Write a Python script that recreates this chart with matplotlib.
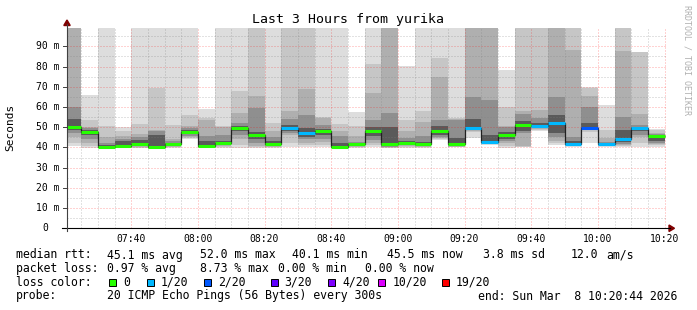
import numpy as np
import matplotlib
matplotlib.use("Agg")
from matplotlib import pyplot as plt
from matplotlib.patches import Rectangle, Polygon
from matplotlib.lines import Line2D

W, H = 697, 310
MONO = "DejaVu Sans Mono"

# end of each 5 minute step
step_end = ["07:25", "07:30", "07:35", "07:40", "07:45", "07:50", "07:55", "08:00",
            "08:05", "08:10", "08:15", "08:20", "08:25", "08:30", "08:35", "08:40",
            "08:45", "08:50", "08:55", "09:00", "09:05", "09:10", "09:15", "09:20",
            "09:25", "09:30", "09:35", "09:40", "09:45", "09:50", "09:55", "10:00",
            "10:05", "10:10", "10:15", "10:20"]

# median rtt per step (ms) and lost pings out of 20
median_ms = [49.9, 47.6, 40.4, 40.75, 41.9, 40.1, 41.6, 47.75, 40.75, 42.1, 49.6, 46.25,
             41.9, 49.6, 46.9, 48.1, 40.4, 41.6, 48.1, 41.9, 42.4, 41.9, 48.1, 41.9,
             49.6, 42.75, 46.1, 51.1, 50.75, 52.1, 41.75, 49.75, 41.75, 44.4, 49.75, 45.5]
loss = [0, 0, 0, 0, 0, 0, 0, 0, 0, 0, 0, 0, 0, 1, 1, 0, 0, 0, 0, 0, 0, 0, 0, 0,
        1, 1, 0, 0, 1, 1, 1, 2, 1, 1, 1, 0]

# smoke bands, outer (1) to inner (5); 120 = off the top of the graph
hi1 = [120, 65.75, 120, 50, 120, 120, 120, 120, 58.75, 120, 120, 120, 120, 120, 120, 120, 120, 57.4,
       120, 120, 80.4, 120, 120, 120, 120, 120, 78.25, 120, 120, 120, 120, 69.75, 60.75, 120, 87.3, 49]
hi2 = [120, 53.4, 50.75, 48, 51.75, 69.4, 51, 56, 54.6, 50.4, 68, 120, 52, 120, 120, 55, 51.75, 50.4,
       81, 120, 53.75, 58.25, 84, 54.6, 120, 120, 60.1, 120, 120, 120, 120, 69.5, 48.75, 120, 87.25, 48.8]
hi3 = [120, 50, 45, 45.5, 46.5, 48.5, 44, 50.4, 53.75, 50, 57.1, 65.4, 48, 57.9, 68.7, 54.5, 48, 45.4,
       67, 120, 48, 52.7, 75, 54, 120, 120, 50.4, 58, 58.4, 120, 88.25, 65.6, 44.6, 87.75, 56.7, 47]
hi4 = [60, 49.5, 42, 44, 45, 48, 43, 49.5, 45.4, 46.25, 52.1, 59.7, 45, 54, 56, 51.2, 45.4, 42.9,
       53.75, 57.1, 44.6, 45.4, 53.75, 53.75, 65, 63.5, 50, 56.7, 54.3, 65, 45, 59.75, 42.9, 55, 51, 46.5]
hi5 = [54, 48.5, 41, 43, 43.7, 46, 42.3, 48.7, 43, 43, 50.5, 47.5, 43, 51, 49.5, 49, 42.1, 42,
       50, 50, 43, 42.9, 50.4, 44.6, 54, 46, 47.5, 53, 52, 56, 43, 52, 42.2, 48.6, 50, 46]
lo5 = [48.5, 46, 40.3, 40.5, 41, 40, 41, 46.5, 40.5, 41.5, 48, 44, 41, 48, 45, 46, 40.3, 41,
       45.5, 40.5, 41.5, 41, 46, 41, 49, 42.3, 44, 48, 50, 47, 41.2, 49.3, 41.2, 42.5, 48, 43]
lo4 = [47, 44, 40.2, 40.2, 40.5, 39.8, 40.5, 45.5, 40.3, 41, 46, 42, 40.5, 47, 44, 44, 40.2, 40.7,
       43.5, 40.2, 41, 40.6, 45, 40.7, 48.5, 42, 43, 47, 49.5, 45, 41, 49, 41, 41.5, 46, 42]
lo3 = [45, 42, 40.1, 40, 40.2, 39.6, 40.2, 45, 40.1, 40.5, 44, 40.5, 40.2, 46, 42, 42.5, 40.1, 40.4,
       42, 40, 40.5, 40.3, 44.5, 40.4, 48, 41.8, 42, 40.5, 49, 43, 40.8, 48.5, 40.8, 41, 45, 41.5]
lo2 = [42, 40.5, 40, 39.8, 39.8, 39.4, 40, 44.5, 40, 40, 41, 40, 40, 42, 41, 41, 40, 40.1,
       41, 39.8, 40.2, 40.1, 44, 40.2, 47.5, 41.6, 40.5, 40.3, 48.5, 42, 40.6, 47.5, 40.6, 40.7, 42, 41]
lo1 = [40.5, 39.5, 39.8, 39.5, 39.5, 39.2, 39.8, 44, 39.7, 39.7, 39.7, 39.5, 39.7, 40, 40.3, 40.3, 39.5, 39.7,
       40, 39.5, 39.7, 39.8, 43.75, 40, 44.6, 41.3, 39.6, 40, 47.9, 41.25, 40.4, 42, 40.4, 40.4, 40.4, 40.4]

smoke_colors = ["#dddddd", "#c6c6c6", "#afafaf", "#8f8f8f", "#5a5a5a"]
loss_colors = {0: "#26ff00", 1: "#00b8ff", 2: "#0059ff", 3: "#5e00ff",
               4: "#7e00ff", 10: "#dd00ff", 19: "#ff0000"}

ends = np.array([int(s[:2]) * 60 + int(s[3:]) for s in step_end], dtype=float)
starts = ends - 5


def fx(x):
    return x / W


def fy(y):
    return 1 - y / H


fig = plt.figure(figsize=(W / 100, H / 100), dpi=100)
fig.patch.set_facecolor("white")

X0, X1 = 67, 667
Y0, Y1 = 228.3, 28.1
YMAX = 99.0
ax = fig.add_axes([fx(X0), fy(Y0), (X1 - X0) / W, (Y0 - Y1) / H])
t0 = 7 * 60 + 20 + 44 / 60
ax.set_xlim(t0, t0 + 180)
ax.set_ylim(0, YMAX)
ax.axis("off")

# smoke
for lo, hi, c in zip([lo1, lo2, lo3, lo4, lo5], [hi1, hi2, hi3, hi4, hi5], smoke_colors):
    lo = np.array(lo)
    hi = np.array(hi)
    ax.bar(starts, hi - lo, bottom=lo, width=5, align="edge", color=c, linewidth=0, zorder=1)

# grid
dots = (0, (1, 2))
for v in range(5, 100, 5):
    if v % 10 == 0:
        ax.axhline(v, color="#ff0000", alpha=0.35, lw=0.72, ls=dots, zorder=2)
    else:
        ax.axhline(v, color="#808080", alpha=0.45, lw=0.72, ls=dots, zorder=2)
for m in range(445, 621, 5):
    if m % 20 == 0:
        ax.axvline(m, color="#ff0000", alpha=0.35, lw=0.72, ls=dots, zorder=2)
    else:
        ax.axvline(m, color="#808080", alpha=0.45, lw=0.72, ls=dots, zorder=2)

# median
ax.stairs(median_ms, np.r_[starts[0], ends], baseline=None, color="#202020", lw=0.9, zorder=3)
ax.hlines(median_ms, starts, ends, colors=[loss_colors[l] for l in loss], lw=2.2, zorder=4)


def ypx(v):
    return Y0 - v * (Y0 - Y1) / YMAX


def xpx(m):
    return X0 + (m - t0) * (X1 - X0) / 180


# axes lines and arrows
fig.add_artist(Line2D([fx(62), fx(670)], [fy(Y0), fy(Y0)], color="black", lw=0.8))
fig.add_artist(Line2D([fx(X0), fx(X0)], [fy(231), fy(24)], color="#404040", lw=0.8))
fig.add_artist(Polygon([[fx(669), fy(225)], [fx(669), fy(231.5)], [fx(674.5), fy(228.3)]],
                       closed=True, color="#800000", transform=fig.transFigure))
fig.add_artist(Polygon([[fx(63.8), fy(25.5)], [fx(70.2), fy(25.5)], [fx(67), fy(20)]],
                       closed=True, color="#800000", transform=fig.transFigure))

# y labels
for v in range(10, 100, 10):
    fig.text(fx(59.5), fy(ypx(v)), f"{v} m", ha="right", va="center", fontsize=7, family=MONO)
    fig.add_artist(Line2D([fx(63), fx(X0)], [fy(ypx(v)), fy(ypx(v))], color="#404040", lw=0.7))
fig.text(fx(48), fy(Y0), "0", ha="right", va="center", fontsize=7, family=MONO)

# x labels
for lab in ["07:40", "08:00", "08:20", "08:40", "09:00", "09:20", "09:40", "10:00", "10:20"]:
    m = int(lab[:2]) * 60 + int(lab[3:])
    fig.text(fx(xpx(m)), fy(238.5), lab, ha="center", va="center", fontsize=7, family=MONO)

fig.text(fx(347.8), fy(19.3), "Last 3 Hours from yurika", ha="center", va="center",
         fontsize=9.5, family=MONO)
fig.text(fx(10.5), fy(127.5), "Seconds", ha="center", va="center", rotation=90,
         fontsize=8, family=MONO)
fig.text(fx(687.5), fy(5), "RRDTOOL / TOBI OETIKER", ha="center", va="top", rotation=270,
         fontsize=6, family=MONO, color="#b0b0b0")

# legend
fs = 8.3
rows = [
    (255, [(16, "median rtt:"), (107.3, "45.1 ms avg"), (200, "52.0 ms max"), (291.7, "40.1 ms min"),
           (386.7, "45.5 ms now"), (482.7, "3.8 ms sd"), (570.7, "12.0"), (606.7, "am/s")]),
    (268.3, [(16, "packet loss:"), (107.3, "0.97 % avg"), (200, "8.73 % max"), (278.3, "0.00 % min"),
             (365, "0.00 % now")]),
    (282.3, [(16, "loss color:")]),
    (296, [(16, "probe:"), (107.3, "20 ICMP Echo Pings (56 Bytes) every 300s"),
           (478.3, "end: Sun Mar  8 10:20:44 2026")]),
]
for y, items in rows:
    for x, s in items:
        fig.text(fx(x), fy(y), s, ha="left", va="center", fontsize=fs, family=MONO)

legend_items = [(109, "0", 0), (146.7, "1/20", 1), (204, "2/20", 2), (270.7, "3/20", 3),
                (328.3, "4/20", 4), (378.3, "10/20", 10), (441.7, "19/20", 19)]
for x, s, key in legend_items:
    fig.add_artist(Rectangle((fx(x), fy(285.8)), 7 / W, 7 / H, facecolor=loss_colors[key],
                             edgecolor="black", lw=0.7, transform=fig.transFigure))
    fig.text(fx(x + 14), fy(282.3), s, ha="left", va="center", fontsize=fs, family=MONO)

fig.savefig("out.png", dpi=100, facecolor="white")
